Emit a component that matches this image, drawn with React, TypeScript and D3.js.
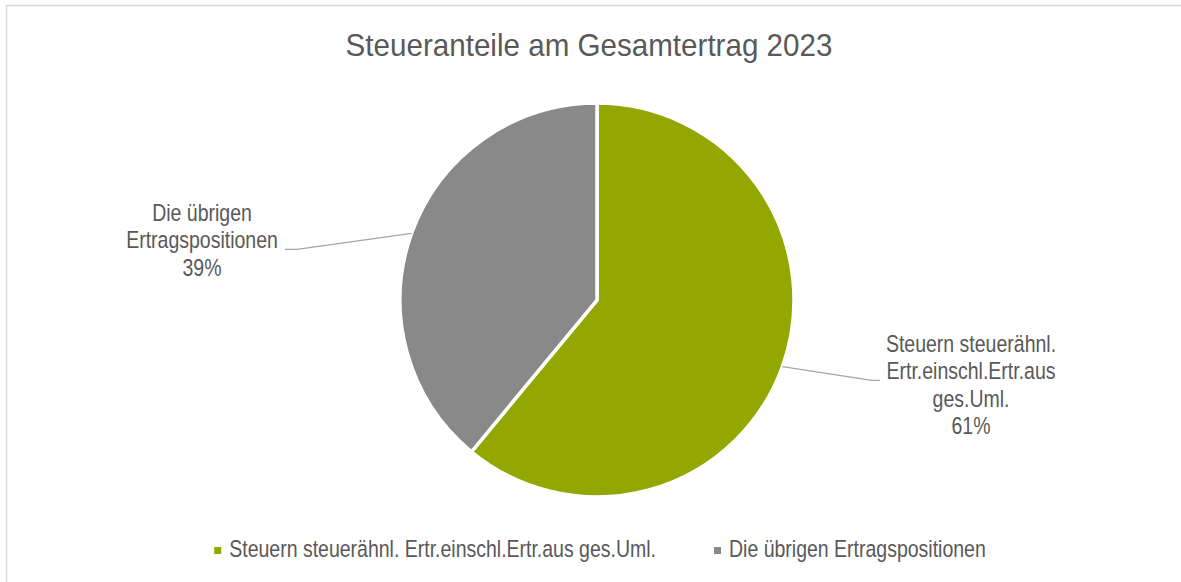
import React, { useEffect, useRef } from "react";
import * as d3 from "d3";

const title = "Steueranteile am Gesamtertrag 2023";
const categories = [
  "Steuern steuerähnl. Ertr.einschl.Ertr.aus ges.Uml.",
  "Die übrigen Ertragspositionen",
];
const values = [61, 39];
const labelLines = [
  ["Steuern steuerähnl.", "Ertr.einschl.Ertr.aus", "ges.Uml.", "61%"],
  ["Die übrigen", "Ertragspositionen", "39%"],
];
const colors = ["#92a800", "#898989"];

const W = 1181;
const H = 582;
const cx = 597;
const cy = 300;
const radius = 197;
const font = "'Liberation Sans', Arial, sans-serif";
const textColor = "#595959";
const squeeze = 0.83; // the original uses a narrow face

// first baseline of each data label, relative to the pie centre
const labelPos = [
  { dx: 374, dy: 52, elbow: 8 },
  { dx: -395, dy: -79, elbow: 12 },
];

const App = () => {
  const svgRef = useRef<SVGSVGElement | null>(null);

  useEffect(() => {
    const svg = d3.select(svgRef.current);
    svg.selectAll("*").remove();

    svg
      .append("rect")
      .attr("x", 6.5)
      .attr("y", 5.5)
      .attr("width", W + 20)
      .attr("height", H + 20)
      .attr("fill", "#fff")
      .attr("stroke", "#d9d9d9")
      .attr("stroke-width", 1.5);

    svg
      .append("text")
      .attr("transform", "translate(589,56) scale(0.925,1)")
      .attr("text-anchor", "middle")
      .style("font-family", font)
      .style("font-size", "32px")
      .attr("fill", textColor)
      .text(title);

    const pie = d3.pie<number>().sort(null).value((d) => d);
    const arcs = pie(values);
    const arc = d3.arc<d3.PieArcDatum<number>>().innerRadius(0).outerRadius(radius);

    const g = svg.append("g").attr("transform", `translate(${cx},${cy})`);
    g.selectAll("path.slice")
      .data(arcs)
      .enter()
      .append("path")
      .attr("class", "slice")
      .attr("d", arc)
      .attr("fill", (d, i) => colors[i])
      .attr("stroke", "#fff")
      .attr("stroke-width", 3.5);

    const lineH = 27.3;
    arcs.forEach((a, i) => {
      const mid = (a.startAngle + a.endAngle) / 2;
      const sx = Math.sin(mid) * radius;
      const sy = -Math.cos(mid) * radius;
      const p = labelPos[i];

      const t = g
        .append("text")
        .attr("transform", `translate(${p.dx},${p.dy}) scale(${squeeze},1)`)
        .attr("text-anchor", "middle")
        .style("font-family", font)
        .style("font-size", "23.5px")
        .attr("fill", textColor);
      labelLines[i].forEach((s, k) => {
        t.append("tspan").attr("x", 0).attr("y", k * lineH).text(s);
      });
      let textW = 0;
      t.selectAll<SVGTSpanElement, unknown>("tspan").each(function () {
        textW = Math.max(textW, this.getComputedTextLength() * squeeze);
      });

      // leader attaches at the second line's baseline
      const ly = p.dy + lineH + 1;
      const left = sx < 0;
      const ex = left ? p.dx + textW / 2 + 7 : p.dx - textW / 2 - 6;
      const bx = left ? ex + p.elbow : ex - p.elbow;
      g.insert("path", "text")
        .attr("d", d3.line()([[sx, sy], [bx, ly], [ex, ly]]))
        .attr("fill", "none")
        .attr("stroke", "#a6a6a6")
        .attr("stroke-width", 1.3);
    });

    // legend, centred under the chart
    const leg = svg.append("g").attr("transform", "translate(0,557)");
    const items = leg
      .selectAll("g.item")
      .data(categories)
      .enter()
      .append("g")
      .attr("class", "item");
    items
      .append("rect")
      .attr("y", -10)
      .attr("width", 7)
      .attr("height", 7)
      .attr("fill", (d, i) => colors[i]);
    items
      .append("text")
      .attr("transform", `translate(15,0) scale(${squeeze},1)`)
      .style("font-family", font)
      .style("font-size", "23.5px")
      .attr("fill", textColor)
      .text((d) => d);

    const widths: number[] = [];
    items.each(function () {
      const tn = d3.select(this).select("text").node() as SVGTextElement;
      widths.push(15 + tn.getComputedTextLength() * squeeze);
    });
    const gap = 58;
    const total = d3.sum(widths) + gap * (widths.length - 1);
    let x = 600 - total / 2;
    items.each(function (d, i) {
      d3.select(this).attr("transform", `translate(${x},0)`);
      x += widths[i] + gap;
    });
  }, []);

  return (
    <div style={{ position: "absolute", left: 0, top: 0 }}>
      <svg ref={svgRef} width={W} height={H} style={{ display: "block" }} />
    </div>
  );
};

export default App;
